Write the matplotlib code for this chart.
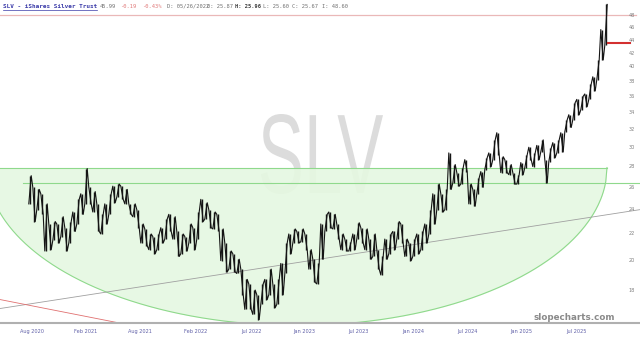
import numpy as np
import matplotlib.pyplot as plt
from matplotlib.textpath import TextPath
from matplotlib.patches import PathPatch
from matplotlib.font_manager import FontProperties
from matplotlib.transforms import Affine2D, IdentityTransform

# high / low of each bar group (about two weeks each)
highs = [27.1, 26.0, 25.8, 25.4, 24.5, 22.8, 23.0, 22.8, 23.4, 22.5,
         23.0, 23.8, 24.9, 25.4, 27.8, 26.0, 25.6, 24.5, 23.6, 24.5,
         25.4, 26.1, 26.3, 26.1, 25.8, 24.5, 24.5, 24.0, 22.8, 22.4,
         22.0, 21.8, 22.0, 22.5, 23.2, 23.6, 23.4, 22.2, 22.0, 21.8,
         22.8, 22.5, 23.8, 24.9, 24.6, 24.0, 23.8, 23.6, 22.4, 21.3,
         20.7, 20.5, 20.1, 19.4, 18.7, 18.4, 18.0, 17.7, 18.4, 18.7,
         19.4, 18.4, 18.7, 19.8, 21.3, 22.0, 22.4, 22.2, 22.4, 22.0,
         20.8, 20.1, 19.8, 22.8, 23.6, 23.8, 23.6, 22.8, 22.0, 21.6,
         21.4, 22.0, 22.9, 22.5, 22.4, 21.6, 22.0, 20.8, 20.3, 21.6,
         22.0, 22.2, 23.0, 22.8, 21.6, 21.3, 21.6, 22.0, 22.2, 22.8,
         24.0, 25.4, 26.3, 25.4, 25.8, 29.4, 28.2, 27.4, 27.9, 28.7,
         26.3, 25.8, 26.9, 27.5, 28.9, 29.4, 30.8, 31.6, 29.0, 28.7,
         28.2, 27.4, 27.2, 28.4, 29.2, 30.0, 29.4, 30.2, 30.8, 28.7,
         29.9, 30.5, 30.8, 31.6, 33.1, 33.7, 35.2, 35.6, 36.0, 36.3,
         37.6, 38.6, 41.0, 45.7, 50.0]
lows = [24.5, 23.0, 24.0, 23.6, 20.7, 20.8, 21.5, 21.3, 21.8, 20.7,
        21.3, 22.2, 22.8, 23.6, 24.5, 24.5, 23.8, 22.2, 22.0, 22.8,
        23.6, 24.6, 25.1, 24.9, 24.5, 23.6, 23.4, 22.5, 21.3, 21.1,
        20.8, 20.5, 20.8, 21.3, 21.6, 22.2, 21.6, 20.3, 20.5, 20.7,
        21.3, 20.8, 21.6, 23.0, 23.2, 22.5, 22.4, 22.2, 20.0, 19.2,
        19.4, 19.2, 19.1, 17.7, 16.8, 16.8, 16.5, 16.2, 17.1, 17.4,
        17.7, 16.9, 17.1, 17.7, 19.1, 20.5, 21.3, 21.3, 21.4, 20.8,
        19.4, 18.5, 18.4, 20.1, 22.2, 22.5, 22.4, 21.6, 20.8, 20.7,
        20.7, 20.8, 21.6, 21.3, 20.8, 20.1, 20.3, 19.4, 19.0, 20.1,
        20.5, 20.8, 21.6, 21.3, 20.3, 20.0, 20.3, 20.5, 20.8, 21.3,
        22.0, 22.8, 24.0, 23.8, 24.0, 25.8, 26.4, 26.1, 26.3, 27.5,
        24.5, 24.3, 25.4, 26.0, 27.7, 28.0, 28.7, 29.2, 27.4, 27.4,
        27.2, 26.3, 26.3, 27.2, 27.9, 28.7, 28.0, 28.7, 29.5, 26.4,
        28.5, 28.9, 29.4, 29.5, 31.7, 32.2, 33.1, 33.7, 34.3, 34.7,
        35.6, 36.7, 38.2, 41.0, 43.2]
last_price = 43.6
peak_line = 48.1

# drawn objects: green bowl, its neckline, two trendlines
bowl_top = 27.9
bowl_bottom = 15.86
bowl_center = 66.75
bowl_half_width = 77.5
neck_price = 26.4
gray_trend = [16.85, 24.0]
red_trend = [17.4, 15.77]

tick_labels = ['Aug 2020', 'Feb 2021', 'Aug 2021', 'Feb 2022', 'Jul 2022', 'Jan 2023',
               'Jul 2023', 'Jan 2024', 'Jul 2024', 'Jan 2025', 'Jul 2025']
tick_pos = [0.5, 14, 27.5, 41.5, 55.25, 68.5, 82, 95.75, 109.25, 122.75, 136.5]
price_ticks = [18, 20, 22, 24, 26, 28, 30, 32, 34, 36, 38, 40, 42, 44, 46, 48]

W, H = 640, 339
fig = plt.figure(figsize=(W / 100, H / 100), dpi=100)
ax = fig.add_axes([0, 16 / H, 1, 323 / H])
ax.set_yscale('log')
xmin, xmax = -7.5, 152.5
ax.set_xlim(xmin, xmax)
ax.set_ylim(16.0, 50.8)

# watermark, stretched tall like the site's big ticker text
tp = TextPath((0, 0), 'SLV', size=100, prop=FontProperties(family='Liberation Sans'))
bb = tp.get_extents()
sx = 122 / bb.width
sy = 80 / bb.height
tr = Affine2D().translate(-bb.x0 - bb.width / 2, -bb.y0 - bb.height / 2).scale(sx, sy).translate(322, H - 154)
fig.add_artist(PathPatch(tr.transform_path(tp), transform=IdentityTransform(),
                         facecolor='#dcdcdc', edgecolor='none', zorder=0))
ax.patch.set_alpha(0)

# green bowl (half ellipse in screen space)
ex = np.linspace(bowl_center - bowl_half_width, bowl_center + bowl_half_width, 500)
k = np.sqrt(np.clip(1 - ((ex - bowl_center) / bowl_half_width) ** 2, 0, None))
ey = np.exp(np.log(bowl_top) - (np.log(bowl_top) - np.log(bowl_bottom)) * k)
ax.fill_between(ex, ey, bowl_top, color='#e5f8e1', alpha=0.9, lw=0, zorder=1)
ax.plot(ex, ey, color='#8fd98c', lw=0.8, zorder=2)
ax.plot([ex[0], ex[-1]], [bowl_top, bowl_top], color='#8fd98c', lw=0.8, zorder=2)
ax.plot([-1.75, xmax], [neck_price, neck_price], color='#8fd98c', lw=0.8, zorder=2)

# trendlines
ax.plot([xmin, xmax], gray_trend, color='#a0a0a0', lw=0.6, zorder=2)
ax.plot([xmin, 27.5], red_trend, color='#e07070', lw=0.6, zorder=2)
ax.plot([xmin, 151.5], [peak_line, peak_line], color='#eab8b8', lw=0.9, zorder=2)

# price bars: a range stroke per group plus a jagged path through them
x = np.arange(len(highs))
ax.vlines(x, lows, highs, color='#151515', lw=1.0, zorder=3)
zx, zy = [], []
for i in range(len(highs)):
    a, b = (lows[i], highs[i]) if i % 2 == 0 else (highs[i], lows[i])
    zx += [i - 0.3, i + 0.3]
    zy += [a, b]
ax.plot(zx, zy, color='#151515', lw=0.8, zorder=3)
ax.plot([x[-1] + 0.5, 150], [last_price, last_price], color='#d33030', lw=1.5, zorder=3)

# axes
for s in ['top', 'left', 'right']:
    ax.spines[s].set_visible(False)
ax.spines['bottom'].set_color('#b0b0b0')
ax.spines['bottom'].set_linewidth(1.5)
ax.yaxis.set_minor_locator(plt.NullLocator())
ax.set_yticks([])
ax.set_xticks(tick_pos)
ax.set_xticklabels(tick_labels, fontsize=3.6, color='#6060a8')
ax.tick_params(axis='x', length=0, pad=4)
for p in price_ticks:
    ax.text(632 / W, p, str(p), transform=ax.get_yaxis_transform(), ha='center', va='center',
            fontsize=3.6, color='#808080')

ax.text(574 / W, 6 / 323, 'slopecharts.com', transform=ax.transAxes, ha='center', va='center',
        fontsize=6.3, color='#8a8a8a', fontweight='bold', zorder=4)

# header
hy = 1 - 6 / H
fig.text(3 / W, hy, 'SLV - iShares Silver Trust', color='#3a3aa8', fontsize=4.3,
         family='DejaVu Sans Mono', fontweight='bold', va='center')
fig.add_artist(plt.Line2D([3 / W, 97 / W], [1 - 10 / H, 1 - 10 / H], color='#3a3aa8', lw=0.5))
header = [(100, '45.99', '#707070', 'normal'), (120, '-0.19', '#e07878', 'normal'),
          (142, '-0.43%', '#e07878', 'normal'), (167, 'D: 05/26/2022', '#707070', 'normal'),
          (207, 'O: 25.87', '#707070', 'normal'), (235, 'H: 25.96', '#404040', 'bold'),
          (263, 'L: 25.60', '#707070', 'normal'), (292, 'C: 25.67', '#707070', 'normal'),
          (322, 'I: 48.60', '#707070', 'normal')]
for px, t, c, w in header:
    fig.text(px / W, hy, t, color=c, fontsize=3.9, family='DejaVu Sans Mono', fontweight=w, va='center')

fig.savefig('out.png', dpi=100)
